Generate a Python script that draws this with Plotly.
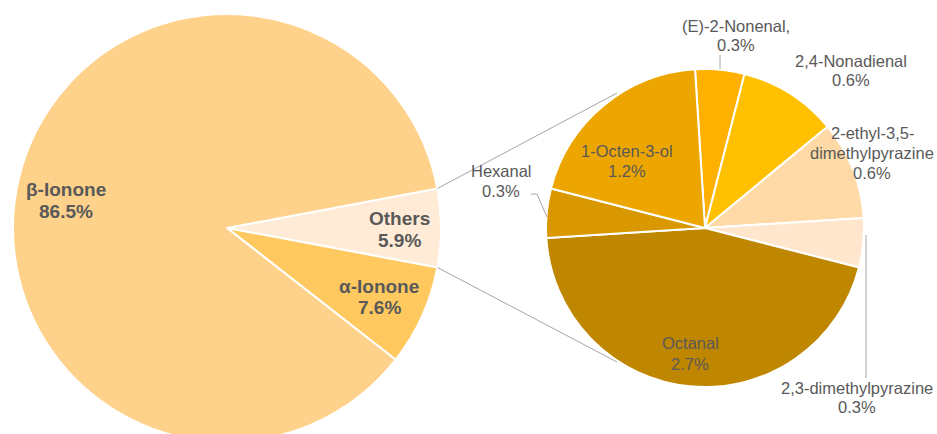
import math
import plotly.graph_objects as go

# ---- data -------------------------------------------------------------
main_labels = ["Others", "α-Ionone", "β-Ionone"]
main_values = [5.9, 7.6, 86.5]
main_colors = ["#FFEBD6", "#FFC960", "#FFD28B"]

sub_labels = ["(E)-2-Nonenal", "2,4-Nonadienal", "2-ethyl-3,5-dimethylpyrazine",
              "2,3-dimethylpyrazine", "Octanal", "Hexanal", "1-Octen-3-ol"]
sub_values = [0.3, 0.6, 0.6, 0.3, 2.7, 0.3, 1.2]
sub_colors = ["#FFB000", "#FFC000", "#FFDAA6", "#FFE6CC", "#BF8600", "#D99700", "#EDA600"]

# ---- page geometry (pixels) ------------------------------------------
W, H = 937, 442
L_CX, L_CY, L_R = 227, 228, 214
R_CX, R_CY, R_R = 705, 228, 159

# first slice of the big pie is centred on the 3 o'clock direction
main_rot = 90 - main_values[0] / sum(main_values) * 360 / 2
sub_rot = -3.6


def px(x):
    return x / W


def py(y):
    return 1 - y / H


def domain(cx, cy, r):
    return dict(x=[px(cx - r), px(cx + r)], y=[py(cy + r), py(cy - r)])


fig = go.Figure()
fig.add_trace(go.Pie(
    labels=main_labels, values=main_values, sort=False, direction="clockwise",
    rotation=main_rot, marker=dict(colors=main_colors, line=dict(color="white", width=2)),
    textinfo="none", hoverinfo="label+value", domain=domain(L_CX, L_CY, L_R),
    showlegend=False,
))
fig.add_trace(go.Pie(
    labels=sub_labels, values=sub_values, sort=False, direction="clockwise",
    rotation=sub_rot, marker=dict(colors=sub_colors, line=dict(color="white", width=2)),
    textinfo="none", hoverinfo="label+value", domain=domain(R_CX, R_CY, R_R),
    showlegend=False,
))

# ---- connector lines between the "Others" wedge and the breakdown pie --
half = main_values[0] / sum(main_values) * math.pi
grey = "#A6A6A6"
shapes = []
for sgn, ey in ((-1, 93), (1, 362)):
    sx = L_CX + L_R * math.cos(half)
    sy = L_CY + sgn * L_R * math.sin(half)
    shapes.append(dict(type="line", xref="paper", yref="paper",
                       x0=px(sx), y0=py(sy), x1=px(617), y1=py(ey),
                       line=dict(color=grey, width=1)))

# leader lines for the small wedges
leaders = [
    [(720, 55), (720, 69)],
    [(531, 194), (537, 194), (547, 217)],
    [(866, 235), (866, 378)],
]
for pts in leaders:
    for (x0, y0), (x1, y1) in zip(pts[:-1], pts[1:]):
        shapes.append(dict(type="line", xref="paper", yref="paper",
                           x0=px(x0), y0=py(y0), x1=px(x1), y1=py(y1),
                           line=dict(color=grey, width=1)))

# ---- labels -------------------------------------------------------------
FONT = "Arial, 'Liberation Sans', sans-serif"
annotations = []


def label(lines, cx, y0, gap, size, bold=False):
    for i, t in enumerate(lines):
        txt = f"<b>{t}</b>" if bold else t
        annotations.append(dict(
            text=txt, x=px(cx), y=py(y0 + i * gap), xref="paper", yref="paper",
            xanchor="center", yanchor="middle", showarrow=False,
            font=dict(family=FONT, size=size, color="#595959"),
        ))


label(["β-Ionone", "86.5%"], 66, 189, 22, 19, bold=True)
label(["Others", "5.9%"], 399, 218, 23, 19, bold=True)
label(["α-Ionone", "7.6%"], 379, 286, 21, 19, bold=True)

label(["(E)-2-Nonenal,", "0.3%"], 736, 26, 19, 16.5)
label(["2,4-Nonadienal", "0.6%"], 851, 61, 19, 16.5)
label(["2-ethyl-3,5-", "dimethylpyrazine", "0.6%"], 872, 133, 20, 16.5)
label(["2,3-dimethylpyrazine", "0.3%"], 857, 388, 19, 16.5)
label(["Octanal", "2.7%"], 690, 343, 21, 16.5)
label(["1-Octen-3-ol", "1.2%"], 627, 151, 20, 16.5)
label(["Hexanal", "0.3%"], 501, 171, 20, 16.5)

fig.update_layout(
    width=W, height=H, margin=dict(l=0, r=0, t=0, b=0),
    paper_bgcolor="white", plot_bgcolor="white",
    shapes=shapes, annotations=annotations,
)

fig.write_html(
    "out.html",
    post_script="document.body.style.margin='0';document.body.style.overflow='hidden';",
)
